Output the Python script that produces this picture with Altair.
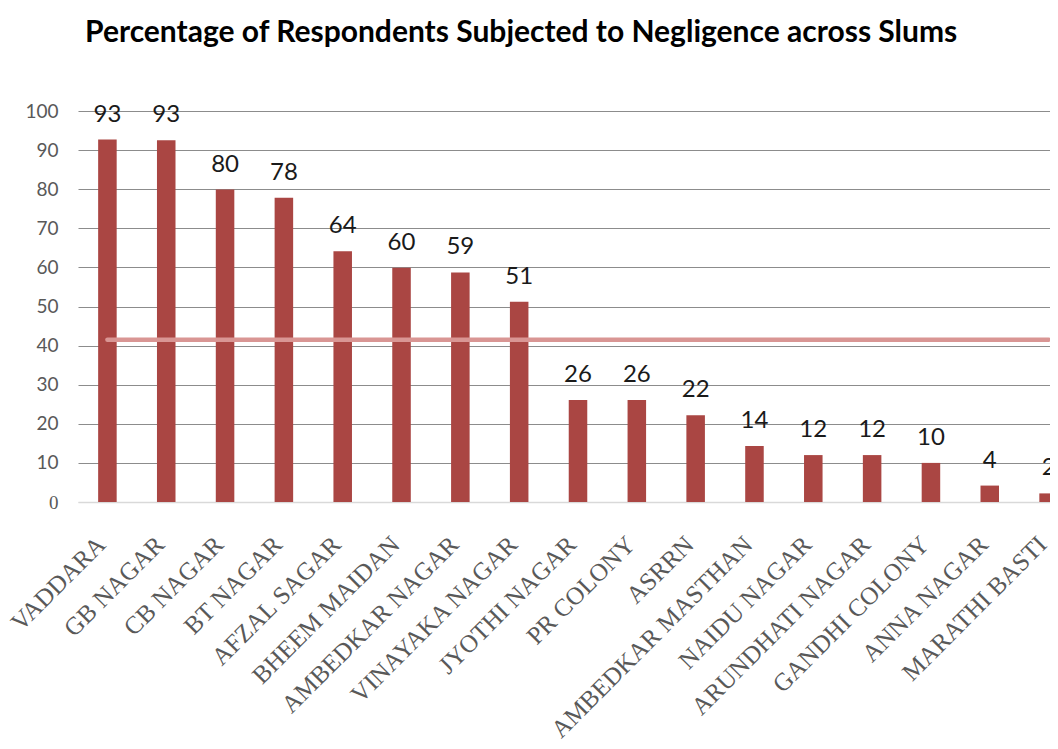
import altair as alt
import pandas as pd

slums = ["VADDARA", "GB NAGAR", "CB NAGAR", "BT NAGAR", "AFZAL SAGAR", "BHEEM MAIDAN",
         "AMBEDKAR NAGAR", "VINAYAKA NAGAR", "JYOTHI NAGAR", "PR COLONY", "ASRRN",
         "AMBEDKAR MASTHAN", "NAIDU NAGAR", "ARUNDHATI NAGAR", "GANDHI COLONY",
         "ANNA NAGAR", "MARATHI BASTI"]
percent = [92.7, 92.5, 79.9, 77.8, 64.1, 59.9, 58.7, 51.2, 26.1, 26.1, 22.2,
           14.3, 12.0, 12.0, 10.0, 4.2, 2.2]
y_ticks = [0, 10, 20, 30, 40, 50, 60, 70, 80, 90, 100]

df = pd.DataFrame({"slum": slums, "value": percent})

x_scale = alt.Scale(range=[0, 1000], paddingInner=0.685, paddingOuter=0.3425)
y_scale = alt.Scale(domain=[0, 100], nice=False)

x_axis = alt.Axis(labelAngle=-45, labelFont="Liberation Serif", labelFontSize=25,
                  labelColor="#595959", labelPadding=38, labelAlign="right",
                  labelBaseline="middle", labelOffset=-6, ticks=False, title=None,
                  domainColor="#d9d9d9", domainWidth=1.5, labelLimit=400)
y_axis = alt.Axis(values=y_ticks, tickCount=len(y_ticks), labelOverlap=False, title=None,
                  domain=False, ticks=False, labelPadding=20,
                  labelFontSize=19, labelColor="#595959",
                  labelFont=alt.ExprRef("datum.value === 0 ? 'Liberation Serif' : 'Lato'"),
                  gridColor=alt.ExprRef("datum.value === 0 ? '#d9d9d9' : '#8c8c8c'"),
                  gridWidth=1.2)

base = alt.Chart(df)

bars = base.mark_bar(color="#AA4643").encode(
    x=alt.X("slum:N", sort=slums, scale=x_scale, axis=x_axis),
    y=alt.Y("value:Q", scale=y_scale, axis=y_axis),
)

labels = base.mark_text(baseline="alphabetic", dy=-18, fontSize=24, font="Lato",
                        color="#1a1a1a").encode(
    x=alt.X("slum:N", sort=slums, scale=x_scale, axis=x_axis),
    y=alt.Y("value:Q", scale=y_scale, axis=y_axis),
    text=alt.Text("value:Q", format=".0f"),
)

mean_line = base.transform_joinaggregate(
    mean_value="mean(value)"
).mark_line(color="#D99694", strokeWidth=4.5, strokeCap="round").encode(
    x=alt.X("slum:N", sort=slums, scale=x_scale, axis=x_axis),
    y=alt.Y("mean_value:Q", scale=y_scale, axis=y_axis),
)

chart = alt.layer(bars, mean_line, labels).properties(
    width=972,
    height=391,
    autosize=alt.AutoSizeParams(type="none"),
    padding={"left": 70, "top": 103, "right": 0, "bottom": 239},
    title=alt.TitleParams(
        "Percentage of Respondents Subjected to Negligence across Slums",
        font="Lato", fontSize=30, fontWeight="bold", color="#000000",
        anchor="middle", frame="bounds", offset=54, dx=-21,
    ),
).configure_view(stroke=None)

chart.save("out.html", embed_options={"renderer": "svg", "actions": False})
